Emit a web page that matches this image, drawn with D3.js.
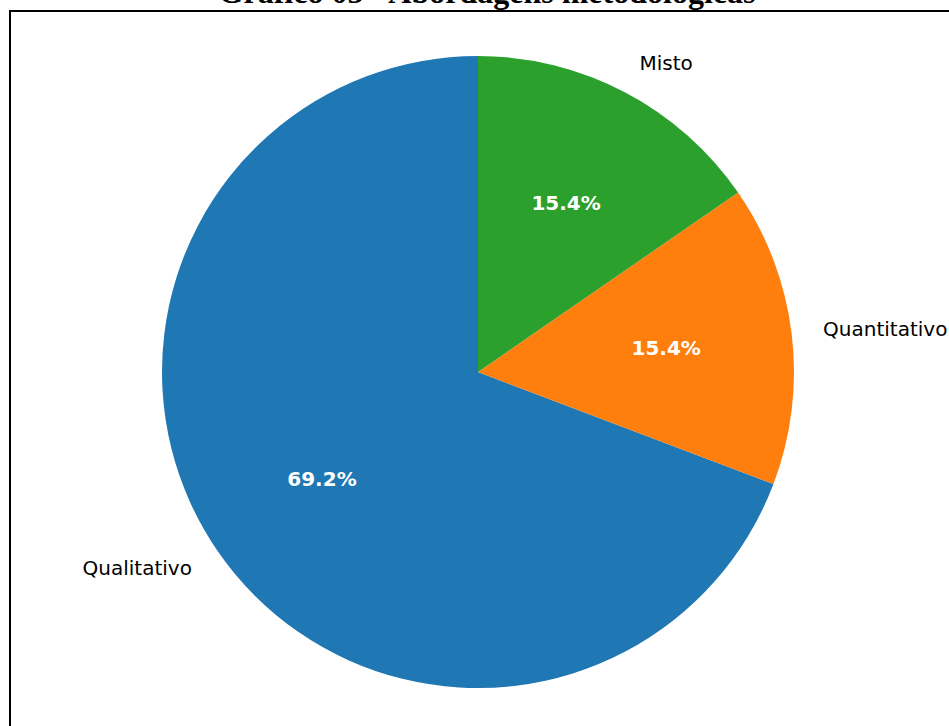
<!DOCTYPE html>
<html>
<head>
<meta charset="utf-8">
<script src="https://cdn.jsdelivr.net/npm/d3@7"></script>
<style>
  body { margin: 0; background: #fff; overflow: hidden; }
</style>
</head>
<body>
<svg id="chart"></svg>
<script>
const categories = ["Qualitativo", "Quantitativo", "Misto"];
const counts = [9, 2, 2];
const colors = ["#1f77b4", "#ff7f0e", "#2ca02c"];
const title = "Gráfico 05 - Abordagens metodológicas";

const width = 949, height = 726;
const cx = 478, cy = 372, radius = 316;

const svg = d3.select("#chart")
  .attr("width", width)
  .attr("height", height);

// frame around the figure (runs off the right and bottom edges)
svg.append("rect")
  .attr("x", 10)
  .attr("y", 11)
  .attr("width", 960)
  .attr("height", 740)
  .attr("fill", "none")
  .attr("stroke", "#000")
  .attr("stroke-width", 2);

// title sits mostly above the page, only its lower part shows
svg.append("text")
  .attr("x", 487)
  .attr("y", 3)
  .attr("text-anchor", "middle")
  .style("font-family", "'Liberation Serif', 'Times New Roman', serif")
  .style("font-weight", "bold")
  .style("font-size", "32px")
  .text(title);

const total = d3.sum(counts);
const data = categories.map((c, i) => ({ label: c, value: counts[i], color: colors[i] }));

// counter-clockwise from 12 o'clock, like matplotlib startangle=90
const pie = d3.pie()
  .sort(null)
  .value(d => d.value)
  .startAngle(0)
  .endAngle(-2 * Math.PI);

const arc = d3.arc()
  .innerRadius(0)
  .outerRadius(radius);

const g = svg.append("g")
  .attr("transform", `translate(${cx},${cy})`);

const slices = g.selectAll(".arc")
  .data(pie(data))
  .enter()
  .append("g")
  .attr("class", "arc");

slices.append("path")
  .attr("d", arc)
  .attr("fill", d => d.data.color);

const mid = d => (d.startAngle + d.endAngle) / 2;

slices.append("text")
  .attr("x", d => 1.1 * radius * Math.sin(mid(d)))
  .attr("y", d => -1.1 * radius * Math.cos(mid(d)))
  .attr("dy", "0.3em")
  .attr("text-anchor", d => Math.sin(mid(d)) >= 0 ? "start" : "end")
  .style("font-family", "'DejaVu Sans', sans-serif")
  .style("font-size", "20px")
  .attr("fill", "#000")
  .text(d => d.data.label);

slices.append("text")
  .attr("x", d => 0.6 * radius * Math.sin(mid(d)))
  .attr("y", d => -0.6 * radius * Math.cos(mid(d)))
  .attr("dy", "0.3em")
  .attr("text-anchor", "middle")
  .style("font-family", "'DejaVu Sans', sans-serif")
  .style("font-size", "20px")
  .style("font-weight", "bold")
  .attr("fill", "#fff")
  .text(d => `${(d.data.value / total * 100).toFixed(1)}%`);
</script>
</body>
</html>
